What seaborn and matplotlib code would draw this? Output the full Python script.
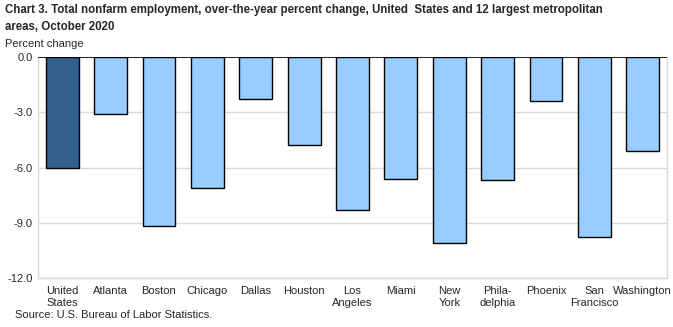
import matplotlib
matplotlib.use("Agg")
import matplotlib.pyplot as plt
import seaborn as sns
import pandas as pd

categories = ["United\nStates", "Atlanta", "Boston", "Chicago", "Dallas", "Houston",
              "Los\nAngeles", "Miami", "New\nYork", "Phila-\ndelphia", "Phoenix",
              "San\nFrancisco", "Washington"]
values = [-6.0, -3.1, -9.2, -7.1, -2.3, -4.8, -8.3, -6.6, -10.1, -6.7, -2.4, -9.8, -5.1]
groups = ["us"] + ["metro"] * 12
yticks = [0.0, -3.0, -6.0, -9.0, -12.0]

sns.set_theme(style="white")
plt.rcParams["font.family"] = ["Liberation Sans", "DejaVu Sans"]

df = pd.DataFrame({"area": categories, "value": values, "group": groups})

fig = plt.figure(figsize=(6.73, 3.27), dpi=100)
ax = fig.add_axes([38/673, 1 - 278/327, (667-38)/673, (278-57)/327])

sns.barplot(data=df, x="area", y="value", hue="group",
            palette={"us": "#335F8F", "metro": "#99CCFF"}, saturation=1,
            dodge=False, width=0.68, edgecolor="black", linewidth=1.0,
            legend=False, ax=ax)

ax.set_ylim(-12, 0)
ax.set_xlim(-0.5, len(categories) - 0.5)
ax.set_yticks(yticks)
ax.set_yticklabels([f"{t:.1f}" for t in yticks], fontsize=8)
ax.yaxis.grid(True, color="#D9D9D9", linewidth=1)
ax.set_axisbelow(True)
ax.tick_params(axis="both", length=0, pad=4)
ax.tick_params(axis="x", labelsize=8, pad=6)
ax.set_xlabel("")
ax.set_ylabel("")
for s in ["left", "right", "bottom"]:
    ax.spines[s].set_color("#D9D9D9")
    ax.spines[s].set_linewidth(1)
ax.spines["top"].set_visible(False)
ax.axhline(0, color="black", linewidth=1.2, zorder=5)

fig.text(5/673, 1 - 4/327,
         "Chart 3. Total nonfarm employment, over-the-year percent change, United  States and 12 largest metropolitan\nareas, October 2020",
         fontsize=8.3, fontweight="bold", va="top", ha="left", linespacing=1.5)
fig.text(5/673, 1 - 44/327, "Percent change", fontsize=8, va="center", ha="left")
fig.text(15/673, 1 - 315/327, "Source: U.S. Bureau of Labor Statistics.", fontsize=8, va="center", ha="left")

fig.savefig("out.png", dpi=100)
